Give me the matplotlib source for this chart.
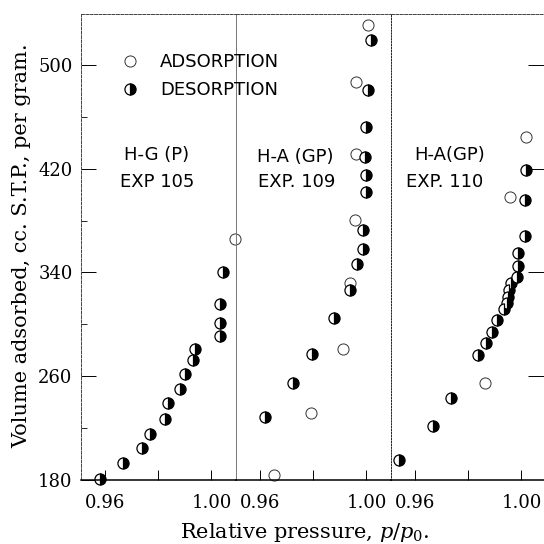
import matplotlib
matplotlib.use("Agg")
import matplotlib.pyplot as plt
from matplotlib.lines import Line2D

plt.rcParams['mathtext.fontset'] = 'dejavuserif'

# H-G (P), EXP 105
p105_ads = [1.0088]
v105_ads = [365.8]
p105_des = [1.0044, 1.0033, 1.0033, 1.0033, 0.9938, 0.9929, 0.9901, 0.9882,
            0.9836, 0.9825, 0.9769, 0.9738, 0.9667, 0.9583]
v105_des = [340.6, 315.5, 301.3, 291.0, 280.8, 272.5, 261.5, 250.2,
            239.1, 226.8, 215.2, 204.9, 193.3, 180.5]

# H-A (GP), EXP 109
p109_ads = [1.0005, 0.9961, 0.9961, 0.9958, 0.9939, 0.9911, 0.9792, 0.9654]
v109_ads = [530.8, 487.1, 431.3, 380.5, 331.7, 280.8, 231.9, 183.9]
p109_des = [1.0017, 1.0005, 0.9998, 0.9996, 0.9998, 0.9998, 0.9988, 0.9988,
            0.9963, 0.9939, 0.9879, 0.9795, 0.9723, 0.9620]
v109_des = [519.2, 480.7, 452.4, 429.3, 415.2, 402.3, 372.8, 357.9,
            346.3, 326.5, 304.7, 277.1, 254.6, 228.8]

# H-A (GP), EXP 110
p110_ads = [1.0017, 0.9958, 0.9863]
v110_ads = [444.7, 398.0, 255.0]
p110_des = [1.0017, 1.0013, 1.0013, 0.9986, 0.9988, 0.9983, 0.9961, 0.9952,
            0.9948, 0.9946, 0.9935, 0.9908, 0.9889, 0.9867, 0.9838, 0.9735,
            0.9667, 0.9541]
v110_des = [419.0, 395.9, 368.1, 354.8, 345.2, 336.7, 331.7, 326.5,
            321.3, 316.7, 311.6, 303.4, 294.3, 285.4, 276.4, 243.0,
            221.6, 195.4]

panels = [
    (p105_ads, v105_ads, p105_des, v105_des, "H-G (P)", "EXP 105"),
    (p109_ads, v109_ads, p109_des, v109_des, "H-A (GP)", "EXP. 109"),
    (p110_ads, v110_ads, p110_des, v110_des, "H-A(GP)", "EXP. 110"),
]

y_ticks = [180, 260, 340, 420, 500]
y_minor = [220, 300, 380, 460]
x_ticks = [0.96, 1.00]
x_tick_labels = ["0.96", "1.00"]
x_minor = [0.98]

ads_style = dict(linestyle='none', marker='o', markersize=8, markerfacecolor='white',
                 markeredgecolor='#333333', markeredgewidth=0.7, clip_on=False)
des_style = dict(linestyle='none', marker='o', markersize=8, fillstyle='right',
                 markerfacecolor='black', markerfacecoloralt='white',
                 markeredgecolor='black', markeredgewidth=0.9, clip_on=False)

fig = plt.figure(figsize=(5.44, 5.44), dpi=100)
W, H = 544.0, 544.0
bottom = 1 - 480 / H
height = (480 - 14) / H
lefts = [81, 236, 391]
label_pos = [(157, 155, 157, 182), (295, 157, 297, 182), (450, 155, 445, 182)]

axes = []
for i, (pa, va, pd_, vd, name, exp) in enumerate(panels):
    ax = fig.add_axes([lefts[i] / W, bottom, 155 / W, height])
    ax.set_facecolor('none')
    ax.plot(pa, va, **ads_style)
    ax.plot(pd_, vd, **des_style)
    ax.set_xlim(0.951, 1.0092)
    ax.set_ylim(180, 539.3)

    ax.set_xticks(x_ticks)
    ax.set_xticklabels(x_tick_labels, family='DejaVu Serif', fontsize=13)
    ax.set_xticks(x_minor, minor=True)
    ax.tick_params(axis='x', which='major', direction='in', length=7, width=0.7, pad=10)
    ax.tick_params(axis='x', which='minor', direction='in', length=7, width=0.7)

    for s in ['top', 'left', 'right']:
        ax.spines[s].set_linestyle((0, (3, 1.5)))
        ax.spines[s].set_linewidth(0.7)
        ax.spines[s].set_color('#444444')
    ax.spines['bottom'].set_linewidth(1.1)

    if i == 0:
        ax.set_yticks(y_ticks)
        ax.set_yticklabels([str(t) for t in y_ticks], family='DejaVu Serif', fontsize=13)
        ax.set_yticks(y_minor, minor=True)
        ax.tick_params(axis='y', which='major', direction='in', length=11, width=0.7, pad=6)
        ax.tick_params(axis='y', which='minor', direction='in', length=4, width=0.6)
        ax.spines['right'].set_linestyle('-')
        ax.spines['right'].set_color('#777777')
    elif i == 1:
        ax.set_yticks([])
        ax.spines['left'].set_visible(False)
        ax.spines['right'].set_linestyle((0, (1.5, 1.5)))
        ax.spines['right'].set_color('#222222')
    else:
        ax.spines['left'].set_visible(False)
        ax.set_yticks(y_ticks[1:])
        ax.tick_params(axis='y', which='major', left=False, right=True, labelleft=False,
                       direction='in', length=13, width=0.7)

    lx1, ly1, lx2, ly2 = label_pos[i]
    fig.text(lx1 / W, 1 - ly1 / H, name, ha='center', va='center',
             family='DejaVu Sans', fontsize=13)
    fig.text(lx2 / W, 1 - ly2 / H, exp, ha='center', va='center',
             family='DejaVu Sans', fontsize=13)
    axes.append(ax)

handles = [Line2D([], [], **{k: v for k, v in ads_style.items() if k != 'clip_on'}),
           Line2D([], [], **{k: v for k, v in des_style.items() if k != 'clip_on'})]
fig.legend(handles, ["ADSORPTION", "DESORPTION"], loc='upper left',
           bbox_to_anchor=(121 / W, 1 - 53 / H), frameon=False,
           prop={'family': 'DejaVu Sans', 'size': 13},
           handlelength=1.0, handletextpad=1.17, labelspacing=0.58,
           borderpad=0, borderaxespad=0)

fig.text(22 / W, 1 - 246 / H, "Volume adsorbed, cc. S.T.P., per gram.",
         rotation=90, ha='center', va='center', family='DejaVu Serif', fontsize=15)
fig.text(305 / W, 1 - 532 / H, r"Relative pressure, $p/p_0$.",
         ha='center', va='center', family='DejaVu Serif', fontsize=15)

fig.savefig("out.png", dpi=100)
